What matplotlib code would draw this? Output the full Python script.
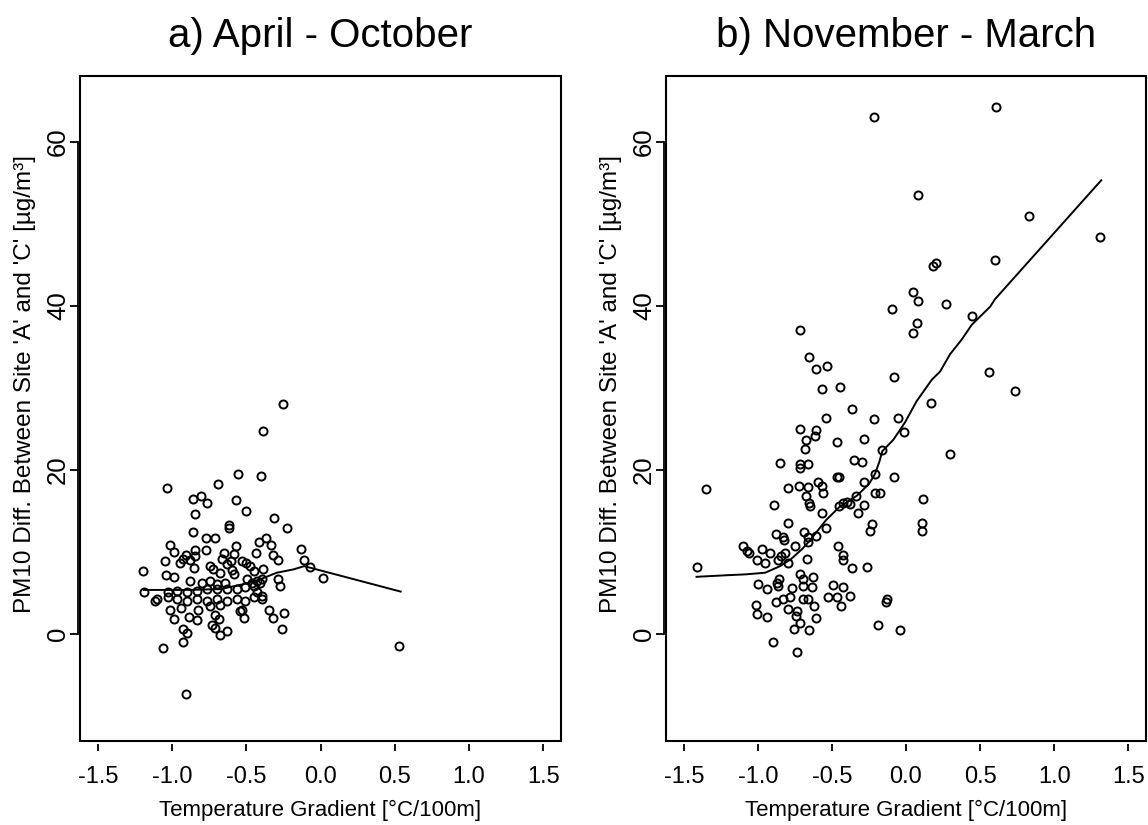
import matplotlib
matplotlib.use("Agg")
import matplotlib.pyplot as plt
from matplotlib.patches import Rectangle

plt.rcParams['font.family'] = ['Liberation Sans', 'DejaVu Sans']

# panel a) April - October
x_a = [-0.253, -0.388, -1.033, -0.691, -0.557, -0.400, -0.858, -0.804, -0.763, -0.568,
       -0.503, -0.844, -0.314, -0.224, -0.615, -0.615, -0.858, -0.770, -0.710, -0.368,
       -1.013, -0.990, -0.903, -0.844, -0.772, -0.570, -0.415, -0.332, -0.435, -0.581,
       -0.653, -0.317, -0.283, -0.130, -0.114,
       -1.193, -1.047, -0.945, -0.927, -0.878, -0.844, -0.665, -0.631, -0.604, -0.530,
       -0.501, -0.474, -0.854, -0.743, -0.721, -0.676, -0.597, -0.581, -0.451, -0.384,
       -1.040, -0.990, -0.878, -0.799, -0.743, -0.698, -0.642, -0.496, -0.462, -0.428,
       -0.395, -0.283, -0.272, -0.069,
       -1.190, -1.024, -0.968, -0.900, -0.833, -0.766, -0.698, -0.631, -0.563, -0.507,
       -0.451, -0.406,
       -1.114, -1.103, -1.024, -0.968, -0.900, -0.833, -0.766, -0.698, -0.631, -0.563,
       -0.507, -0.451, -0.395, -0.428,
       -1.017, -0.941, -0.822, -0.743, -0.676, -0.541, -0.530, -0.395, -0.350, -0.317,
       -0.249,
       -0.990, -0.889, -0.829, -0.514, -0.710, -0.687,
       -0.923, -0.900, -0.732, -0.710, -0.631, -0.676, -0.260,
       -1.062, -0.927, -0.905, 0.020, 0.530]
y_a = [28.1, 24.8, 17.8, 18.3, 19.5, 19.3, 16.5, 16.8, 16.0, 16.3,
       15.0, 14.6, 14.2, 12.9, 13.3, 12.9, 12.4, 11.7, 11.7, 11.7,
       10.9, 10.0, 9.7, 10.3, 10.3, 10.8, 11.2, 10.9, 9.9, 9.8,
       9.9, 9.6, 9.1, 10.4, 9.1,
       7.7, 8.9, 8.7, 9.2, 9.1, 9.5, 9.2, 8.5, 8.9, 8.9,
       8.7, 8.3, 8.1, 8.3, 7.9, 7.5, 7.8, 7.3, 7.7, 8.0,
       7.2, 7.0, 6.5, 6.3, 6.5, 6.1, 6.3, 6.7, 6.3, 6.5,
       6.7, 6.7, 5.9, 8.2,
       5.1, 5.1, 5.3, 5.1, 5.3, 5.5, 5.5, 5.5, 5.5, 5.7,
       5.9, 6.3,
       4.1, 4.3, 4.5, 4.3, 4.1, 4.3, 4.1, 4.3, 4.1, 4.3,
       4.1, 4.5, 4.7, 5.1,
       3.0, 3.2, 3.0, 3.4, 3.6, 2.8, 3.0, 4.3, 3.0, 2.0,
       2.6,
       1.8, 2.1, 1.7, 2.0, 2.4, 1.9,
       0.7, 0.1, 1.1, 0.8, 0.4, -0.1, 0.6,
       -1.7, -1.0, -7.3, 6.9, -1.4]
fit_xa = [-1.19, -0.90, -0.676, -0.519, -0.406, -0.294, -0.182, -0.11, 0.54]
fit_ya = [5.4, 5.4, 5.5, 6.1, 6.7, 7.5, 7.9, 8.3, 5.2]

# panel b) November - March
x_b = [-0.216, 0.608, 0.081, 0.831, 1.311, 0.601, 0.180, 0.203, 0.045, 0.081,
       0.270, -0.095, 0.446, 0.074, 0.045, -0.716, -0.657,
       -0.608, -0.536, -0.570, -0.448, -0.081, -0.365, -0.543, -0.216, -0.056, -0.014,
       -0.716, -0.608, -0.676, -0.615, -0.683, -0.468, -0.284, -0.162, -0.849, -0.716,
       -0.716, -0.664, -0.351, -0.299, -0.468, -0.450, -0.281, -0.209, -0.081, -1.351,
       -0.723, -0.664, -0.797, -0.592, -0.570, -0.558, -0.676, -0.653, -0.649, -0.892,
       -0.209, -0.176, -0.338, -0.423, -0.401, -0.378, -0.450, -0.284, -0.568, -0.324,
       -0.797, -0.541, -0.230, -0.243, -0.878, -0.829, -0.689, -0.608, -0.659,
       -0.824, -0.659, -0.750, -1.414, -1.103, -1.072, -1.058, -0.973, -0.919, -1.009,
       -0.953, -0.862, -0.847, -0.818, -0.795, -0.669, -0.457, -0.423, -0.423, -0.367,
       -0.266, -0.997, -0.941, -0.869, -0.855, -0.862, -0.772, -0.716, -0.693, -0.626,
       -0.698, -0.637, -0.495, -0.428, -0.378, -0.833, -0.784, -0.693, -0.659, -0.524,
       -0.468, -1.014, -0.878, -0.799, -0.739, -0.622, -0.439, -1.009, -0.941, -0.743,
       -0.608, -0.716, -0.757, -0.655, -0.130, -0.135, -0.191, -0.041, -0.897, -0.739,
       0.561, 0.736, 0.167, 0.297, 0.115, 0.108, 0.108]
y_b = [63.0, 64.2, 53.5, 50.9, 48.4, 45.6, 44.9, 45.2, 41.7, 40.6,
       40.2, 39.6, 38.8, 37.9, 36.7, 37.1, 33.8,
       32.3, 32.7, 29.9, 30.1, 31.3, 27.5, 26.4, 26.2, 26.4, 24.6,
       25.0, 24.9, 23.7, 24.1, 22.6, 23.4, 23.8, 22.5, 20.9, 20.7,
       20.3, 20.8, 21.2, 21.0, 19.1, 19.2, 18.6, 19.5, 19.1, 17.7,
       18.1, 17.9, 17.8, 18.5, 18.0, 17.2, 16.8, 16.0, 15.6, 15.7,
       17.2, 17.2, 16.8, 16.0, 16.1, 15.9, 15.6, 15.7, 14.8, 14.8,
       13.5, 13.0, 13.4, 12.6, 12.2, 11.8, 12.4, 12.0, 11.8,
       11.5, 11.2, 10.8, 8.2, 10.7, 10.1, 9.9, 10.4, 9.9, 9.0,
       8.7, 9.1, 9.5, 9.9, 8.7, 9.2, 10.7, 9.7, 9.1, 8.1,
       8.2, 6.1, 5.5, 6.3, 6.7, 5.9, 5.6, 7.3, 6.7, 7.0,
       5.9, 5.7, 6.0, 5.8, 4.7, 4.3, 4.6, 4.3, 4.3, 4.6,
       4.6, 3.6, 3.9, 3.1, 2.8, 3.4, 3.4, 2.5, 2.1, 2.2,
       2.0, 1.4, 0.6, 0.5, 4.3, 3.9, 1.1, 0.5, -1.0, -2.2,
       32.0, 29.6, 28.2, 21.9, 16.5, 13.6, 12.6]
fit_xb = [-1.414, -1.20, -1.08, -0.95, -0.85, -0.78, -0.70, -0.65, -0.54, -0.45,
          -0.33, -0.25, -0.21, -0.18, -0.16, -0.085, -0.007, 0.072, 0.174, 0.230,
          0.297, 0.376, 0.444, 0.568, 0.60, 1.318]
fit_yb = [7.0, 7.2, 7.3, 7.5, 8.3, 9.1, 10.4, 11.4, 13.9, 15.5,
          16.9, 18.3, 19.5, 21.0, 22.3, 23.7, 25.8, 28.4, 31.0, 32.0,
          34.1, 35.9, 37.7, 39.9, 40.8, 55.3]

titles = ['a) April - October', 'b) November - March']
xticks = [-1.5, -1.0, -0.5, 0.0, 0.5, 1.0, 1.5]
yticks = [0, 20, 40, 60]

fig = plt.figure(figsize=(11.48, 8.25), dpi=100)
ax1 = fig.add_axes([80 / 1148, 84 / 825, 481 / 1148, 665 / 825])
ax2 = fig.add_axes([666 / 1148, 84 / 825, 480 / 1148, 665 / 825])

panels = [(ax1, x_a, y_a, fit_xa, fit_ya), (ax2, x_b, y_b, fit_xb, fit_yb)]
for (ax, xs, ys, fx, fy), title in zip(panels, titles):
    # spines first: moving a spine resets its ticks
    for s in ax.spines.values():
        s.set_visible(False)
    ax.spines['bottom'].set_position(('outward', 2.5))
    # R-style axis line over the tick range, next to the box edge
    ax.spines['left'].set_visible(True)
    ax.spines['left'].set_position(('outward', 1.2))
    ax.spines['left'].set_linewidth(1.3)

    ax.plot(xs, ys, 'o', ms=5.8, mfc='none', mec='black', mew=1.4)
    ax.plot(fx, fy, '-', color='black', lw=1.4)
    ax.set_xlim(-1.62, 1.62)
    ax.set_ylim(-13, 68)
    ax.spines['left'].set_bounds(0, 60)
    ax.set_xticks(xticks)
    ax.set_xticklabels([f'{t:.1f}' for t in xticks])
    ax.set_yticks(yticks)
    ax.set_yticklabels([str(t) for t in yticks], rotation=90, va='center')
    ax.add_patch(Rectangle((0, 0), 1, 1, transform=ax.transAxes, fill=False,
                           ec='black', lw=1.5, clip_on=False))
    ax.tick_params(axis='x', direction='out', length=5, width=1.3, pad=10.5, labelsize=17)
    ax.tick_params(axis='y', direction='out', length=5.5, width=1.3, pad=0.5, labelsize=18.5)
    ax.set_xlabel('Temperature Gradient [°C/100m]', fontsize=16, va='baseline')
    ax.xaxis.set_label_coords(0.5, -0.1126)
    ax.set_ylabel("PM10 Diff. Between Site 'A' and 'C' [µg/m³]", fontsize=17.5, va='center')
    ax.yaxis.set_label_coords(-0.114, 0.5375)
    ax.set_title(title, fontsize=29, y=1.0443, pad=0, va='baseline')

fig.savefig('out.png', dpi=100)
